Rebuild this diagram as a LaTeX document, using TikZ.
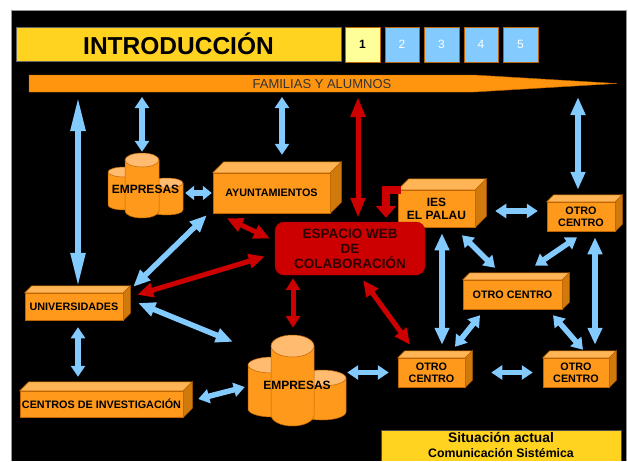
\documentclass[tikz,border=0pt]{standalone}
\usepackage{fontspec}
\setmainfont{Liberation Sans}
\usepackage{tikz}
\usetikzlibrary{arrows.meta}
\definecolor{boxorange}{RGB}{255,153,28}
\definecolor{boxtopc}{RGB}{255,180,85}
\definecolor{boxsidec}{RGB}{208,122,14}
\definecolor{boxline}{RGB}{190,100,0}
\definecolor{cyltopc}{RGB}{255,187,112}
\definecolor{skyblue}{RGB}{131,202,255}
\definecolor{webred}{RGB}{204,0,0}
\definecolor{webtext}{RGB}{45,0,0}
\definecolor{titleyellow}{RGB}{255,211,32}
\definecolor{paleyellow}{RGB}{255,255,153}
\definecolor{bannerorange}{RGB}{255,149,14}
\definecolor{framegray}{RGB}{150,150,150}

\tikzset{
  dbl/.style={draw=skyblue, line width=5.5pt, arrows={Triangle[width=14pt,length=#1]-Triangle[width=14pt,length=#1]}},
  dbl/.default=11pt,
  red2/.style={draw=webred, line width=5pt, arrows={Triangle[width=14pt,length=#1]-Triangle[width=14pt,length=#1]}},
  red2/.default=16pt
}

\newcommand{\drum}[5]{%
  \filldraw [cylbody] ({#1-#3},#2) -- ({#1-#3},{#2+#5}) arc [start angle=180, end angle=0, x radius=#3, y radius=#4] -- ({#1+#3},#2) -- cycle;
  \filldraw [cyltop] (#1,#2) ellipse [x radius=#3, y radius=#4];
}

\begin{document}
\begin{tikzpicture}
      [x=1pt, y=-1pt,
       every node/.style={align=center, inner sep=0pt},
       block/.style={draw=boxline, line width=0.5pt, fill=boxorange, font=\bfseries\fontsize{10.8}{12}\selectfont},
       boxtop/.style={draw=boxline, line width=0.5pt, fill=boxtopc},
       boxside/.style={draw=boxline, line width=0.5pt, fill=boxsidec},
       cylbody/.style={draw=boxline, line width=0.5pt, fill=boxorange},
       cyltop/.style={draw=boxline, line width=0.5pt, fill=cyltopc},
       tab/.style={draw=boxline, fill=skyblue, minimum width=34.5pt, minimum height=35pt, text=white, font=\fontsize{12}{12}\selectfont}]
      \useasboundingbox (0,0) rectangle (628,461);
      \fill [white] (0,0) rectangle (628,461);
      \fill [black] (11,10) rectangle (626,461);
      \draw [framegray, line width=1pt] (11,461) -- (11,10) -- (626,10) -- (626,461);

      \node (intro) [draw=black!60, fill=titleyellow, minimum width=325pt, minimum height=34pt, font=\bfseries\fontsize{24.5}{24}\selectfont] at (178.5,44) {INTRODUCCIÓN};
      \node (tab1) [tab, fill=paleyellow, text=black, font=\bfseries\fontsize{12}{12}\selectfont] at (362.5,44.5) {1};
      \foreach \i in {2,...,5}
        \node (tab\i) [tab] at ({362.5+39.5*(\i-1)},44.5) {\i};

      \filldraw [draw=boxline, fill=bannerorange] (29,75) -- (474,75) -- (617,83.5) -- (474,92) -- (29,92) -- cycle;
      \node (fam) [font=\fontsize{13}{13}\selectfont, text=black!80] at (322,84) {FAMILIAS Y ALUMNOS};
      \coordinate (famb) at (322,97);

      \drum{124}{172}{16}{5}{33}
      \drum{166.5}{183}{16.5}{5}{27}
      \drum{142}{160}{17}{7}{51}
      \node (emp1) [minimum width=75pt, minimum height=72pt, font=\bfseries\fontsize{12}{12}\selectfont] at (145.5,189) {EMPRESAS};

      \drum{272}{365}{24}{8}{44}
      \drum{322}{378}{24}{8}{34}
      \drum{292.5}{346}{21.5}{11}{69}
      \node (emp2) [minimum width=98pt, minimum height=100pt, font=\bfseries\fontsize{12}{12}\selectfont] at (297,385) {EMPRESAS};

      \node (ayto) [block, minimum width=117pt, minimum height=40pt] at (271.5,193) {AYUNTAMIENTOS};
      \node (ies) [block, minimum width=77pt, minimum height=37pt, font=\bfseries\fontsize{12}{13}\selectfont] at (436.5,208.5) {IES\\EL PALAU};
      \node (otroa) [block, minimum width=68pt, minimum height=29pt] at (581,216.5) {OTRO\\CENTRO};
      \node (otrob) [block, minimum width=99pt, minimum height=29pt] at (512.5,294.5) {OTRO CENTRO};
      \node (otroc) [block, minimum width=67pt, minimum height=29pt] at (431.5,372.5) {OTRO\\CENTRO};
      \node (otrod) [block, minimum width=66pt, minimum height=29pt] at (576,372.5) {OTRO\\CENTRO};
      \node (univ) [block, minimum width=98pt, minimum height=27pt] at (74,306.5) {UNIVERSIDADES};
      \node (cinv) [block, minimum width=163pt, minimum height=26pt] at (101.5,404) {CENTROS DE INVESTIGACIÓN};
      \foreach \n/\d in {ayto/11, ies/11, otroa/7, otrob/7, otroc/7, otrod/7, univ/7, cinv/9} {
        \filldraw [boxtop] (\n.north west) -- ++(\d,-\d) -- ([shift={(\d,-\d)}]\n.north east) -- (\n.north east) -- cycle;
        \filldraw [boxside] (\n.north east) -- ([shift={(\d,-\d)}]\n.north east) -- ([shift={(\d,-\d)}]\n.south east) -- (\n.south east) -- cycle;
      }

      \node (web) [rounded corners=9pt, fill=webred, draw=webred!80!black, minimum width=150pt, minimum height=53pt, text=webtext, font=\bfseries\fontsize{13.5}{15}\selectfont] at (350,248.5) {ESPACIO WEB\\DE\\COLABORACIÓN};

      \filldraw [draw=black!70, fill=titleyellow] (381,461) -- (381,430) -- (621,430) -- (621,461);
      \node (sit) [font=\bfseries\fontsize{13.8}{15}\selectfont] at (501,444.5) {Situación actual\\{\fontsize{12.3}{15}\selectfont Comunicación Sistémica}};

      \draw [dbl=34pt] ([xshift=4pt]univ.north |- famb) -- ([xshift=4pt,yshift=6pt]univ.north);
      \draw [dbl] ([xshift=-3.5pt]emp1.north |- famb) -- ([xshift=-3.5pt,yshift=1pt]emp1.north);
      \draw [dbl] ([xshift=10.5pt]ayto.north |- famb) -- ([xshift=10.5pt,yshift=18pt]ayto.north);
      \draw [red2=20pt] ([xshift=8pt]web.north |- famb) -- ([xshift=8pt,yshift=4pt]web.north);
      \draw [dbl=18pt] ([xshift=-3pt]otroa.north |- famb) -- ([xshift=-3pt,yshift=12pt]otroa.north);
      \draw [dbl=9pt] ([xshift=2pt]emp1.east |- ayto.west) -- ([xshift=-1pt]ayto.west);
      \draw [dbl=17pt] ([xshift=-6pt,yshift=-2pt]ayto.south west) -- ([xshift=10pt,yshift=6pt]univ.north east);
      \draw [red2] ([xshift=14pt,yshift=-5pt]ayto.south west) -- ([xshift=-5pt,yshift=10pt]web.west);
      \draw [red2] ([xshift=-10pt,yshift=-8pt]web.west) -- ([xshift=14pt,yshift=-2pt]univ.north east);
      \draw [dbl=17pt] ([xshift=15pt,yshift=3.5pt]univ.east) -- ([xshift=-15pt,yshift=-7pt]emp2.north west);
      \draw [red2=12pt] ([xshift=-57pt,yshift=-3pt]web.south) -- ([xshift=-4pt,yshift=7pt]emp2.north);
      \draw [dbl] ([xshift=4pt,yshift=-7pt]univ.south) -- ([xshift=-23.5pt,yshift=14pt]cinv.north);
      \draw [dbl] ([xshift=15pt,yshift=5pt]cinv.east) -- ([xshift=-3pt,yshift=-2pt]emp2.west);
      \draw [dbl] ([xshift=1pt]emp2.east |- otroc.west) -- ([xshift=-9pt]otroc.west);
      \draw [red2] ([xshift=13pt,yshift=-5pt]web.south) -- ([xshift=-21.5pt,yshift=13pt]otroc.north);
      \draw [draw=webred, line width=8pt, arrows={-Triangle[width=20pt,length=12pt]}] ([xshift=3pt]ies.north west) -| ([xshift=36pt,yshift=4pt]web.north);
      \draw [dbl] ([xshift=20pt,yshift=-2.5pt]ies.east) -- ([xshift=-9pt,yshift=5.5pt]otroa.west);
      \draw [dbl] ([xshift=25.5pt,yshift=-8pt]ies.south) -- ([xshift=-17.5pt,yshift=12pt]otrob.north);
      \draw [dbl] ([xshift=22.5pt,yshift=14pt]otrob.north) -- ([xshift=-4pt,yshift=-6pt]otroa.south);
      \draw [dbl=17pt] ([xshift=5.5pt,yshift=-6pt]ies.south) -- ([xshift=10.5pt,yshift=13pt]otroc.north);
      \draw [dbl=17pt] ([xshift=14pt,yshift=-6pt]otroa.south) -- ([xshift=19pt,yshift=13pt]otrod.north);
      \draw [dbl] ([xshift=-32.5pt,yshift=-6pt]otrob.south) -- ([xshift=23.5pt,yshift=11pt]otroc.north);
      \draw [dbl] ([xshift=40.5pt,yshift=-6pt]otrob.south) -- ([xshift=7pt,yshift=8pt]otrod.north);
      \draw [dbl] ([xshift=26pt]otroc.east) -- ([xshift=-10pt]otrod.west);
    \end{tikzpicture}
\end{document}
